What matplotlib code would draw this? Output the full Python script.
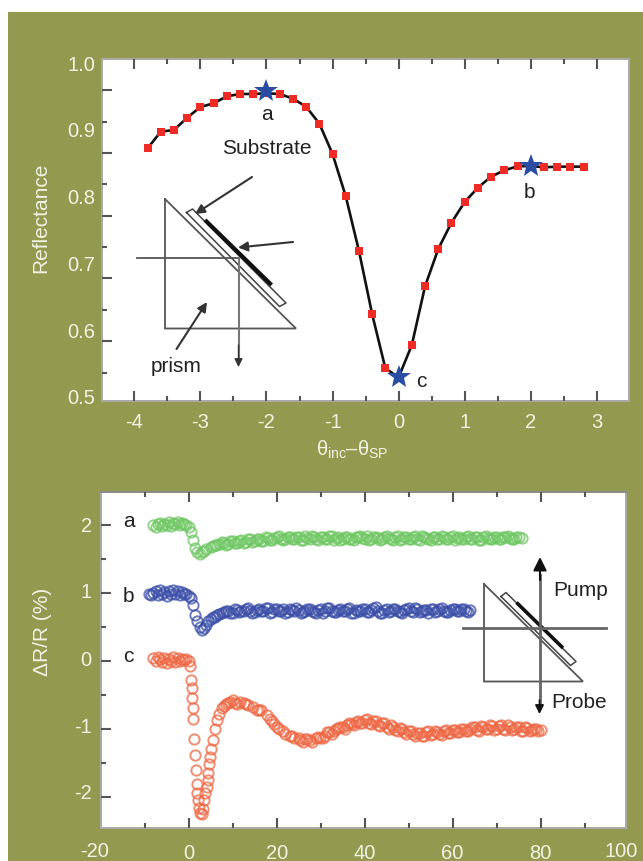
import matplotlib
matplotlib.use('Agg')
import matplotlib.pyplot as plt
from matplotlib.patches import Rectangle

plt.rcParams['font.family'] = ['Liberation Sans', 'DejaVu Sans']
plt.rcParams['mathtext.fontset'] = 'custom'
plt.rcParams['mathtext.rm'] = 'Liberation Sans'

W, H = 643, 861
OLIVE = '#939a4f'
LABEL = '#f1f2e2'
FRAME = '#a9a9a9'
INK = '#222222'
TICK = '#555555'

# reflectance curve
angle = [-3.8, -3.6, -3.4, -3.2, -3.0, -2.8, -2.6, -2.4, -2.2, -2.0,
         -1.8, -1.6, -1.4, -1.2, -1.0, -0.8, -0.6, -0.4, -0.2, 0.0,
         0.2, 0.4, 0.6, 0.8, 1.0, 1.2, 1.4, 1.6, 1.8, 2.0,
         2.2, 2.4, 2.6, 2.8]
reflectance = [0.8725, 0.8975, 0.900, 0.9185, 0.9345, 0.940, 0.9505, 0.954, 0.954, 0.955,
               0.954, 0.947, 0.935, 0.9095, 0.864, 0.8005, 0.7185, 0.6235, 0.5425, 0.529,
               0.5775, 0.6655, 0.7215, 0.761, 0.792, 0.8135, 0.830, 0.8395, 0.8455, 0.846,
               0.844, 0.845, 0.845, 0.845]
star_angle = [-2.0, 2.0, 0.0]
star_refl = [0.9585, 0.846, 0.529]

refl_xticks = [-4, -3, -2, -1, 0, 1, 2, 3]
refl_xminor = [-3.5, -2.5, -1.5, -0.5, 0.5, 1.5, 2.5]
refl_ylabels = [0.5, 0.6, 0.7, 0.8, 0.9, 1.0]
# the printed tick marks do not line up with the printed numbers
refl_ymajor = [0.96, 0.866, 0.7715, 0.6775, 0.5835]
refl_yminor = [0.9125, 0.8185, 0.725, 0.630, 0.536]

# transient traces
t_a = [-8, -7.5, -7, -6.5, -6, -5.5, -5, -4.5, -4, -3.5,
       -3, -2.5, -2, -1.5, -1, -0.5, 0, 0.5, 1, 1.5,
       2, 2.5, 3, 3.5, 4, 5, 6, 7, 8, 9,
       10, 11, 12, 13, 14, 15, 16, 17, 18, 19,
       20, 21, 22, 23, 24, 25, 26, 27, 28, 29,
       30, 31, 32, 33, 34, 35, 36, 37, 38, 39,
       40, 41, 42, 43, 44, 45, 46, 47, 48, 49,
       50, 51, 52, 53, 54, 55, 56, 57, 58, 59,
       60, 61, 62, 63, 64, 65, 66, 67, 68, 69,
       70, 71, 72, 73, 74, 75, 75.7]
r_a = [2.0, 1.97, 2.01, 2.03, 1.98, 2.02, 2.0, 2.04, 1.99, 2.03,
       2.01, 2.04, 2.0, 2.03, 2.02, 2.0, 1.97, 1.9, 1.78, 1.66,
       1.6, 1.58, 1.6, 1.62, 1.65, 1.67, 1.7, 1.72, 1.74, 1.72,
       1.76, 1.74, 1.78, 1.75, 1.79, 1.76, 1.8, 1.77, 1.81, 1.78,
       1.82, 1.79, 1.8, 1.83, 1.79, 1.82, 1.78, 1.81, 1.84, 1.79,
       1.82, 1.8, 1.84, 1.78, 1.82, 1.8, 1.83, 1.79, 1.82, 1.84,
       1.8, 1.78, 1.83, 1.81, 1.79, 1.84, 1.8, 1.82, 1.78, 1.83,
       1.8, 1.82, 1.79, 1.84, 1.81, 1.78, 1.83, 1.8, 1.82, 1.79,
       1.84, 1.81, 1.79, 1.83, 1.8, 1.82, 1.78, 1.83, 1.81, 1.8,
       1.82, 1.79, 1.83, 1.81, 1.8, 1.82, 1.81]
# in-between points of the same trace
t_a2 = [5.5, 6.5, 7.5, 8.5, 9.5, 10.5, 11.5, 12.5, 13.5, 14.5,
        15.5, 16.5, 17.5, 18.5, 19.5, 20.5, 21.5, 22.5, 23.5, 24.5,
        25.5, 26.5, 27.5, 28.5, 29.5, 30.5, 31.5, 32.5, 33.5, 34.5,
        35.5, 36.5, 37.5, 38.5, 39.5, 40.5, 41.5, 42.5, 43.5, 44.5,
        45.5, 46.5, 47.5, 48.5, 49.5, 50.5, 51.5, 52.5, 53.5, 54.5,
        55.5, 56.5, 57.5, 58.5, 59.5, 60.5, 61.5, 62.5, 63.5, 64.5,
        65.5, 66.5, 67.5, 68.5, 69.5, 70.5, 71.5, 72.5, 73.5, 74.5]
r_a2 = [1.69, 1.7, 1.75, 1.71, 1.76, 1.73, 1.77, 1.74, 1.79, 1.75,
        1.79, 1.76, 1.82, 1.78, 1.81, 1.84, 1.78, 1.82, 1.79, 1.83,
        1.78, 1.84, 1.8, 1.83, 1.78, 1.82, 1.79, 1.84, 1.81, 1.78,
        1.83, 1.8, 1.78, 1.83, 1.81, 1.84, 1.79, 1.82, 1.78, 1.83,
        1.81, 1.78, 1.84, 1.8, 1.83, 1.79, 1.84, 1.78, 1.82, 1.8,
        1.83, 1.79, 1.84, 1.8, 1.82, 1.78, 1.83, 1.8, 1.84, 1.79,
        1.82, 1.78, 1.84, 1.8, 1.83, 1.79, 1.82, 1.84, 1.79, 1.82]

t_b = [-9, -8.5, -8, -7.5, -7, -6.5, -6, -5.5, -5, -4.5,
       -4, -3.5, -3, -2.5, -2, -1.5, -1, -0.5, 0, 0.5,
       1, 1.5, 2, 2.5, 3, 3.5, 4, 4.5, 5, 6,
       7, 8, 9, 10, 11, 12, 13, 14, 15, 16,
       17, 18, 19, 20, 21, 22, 23, 24, 25, 26,
       27, 28, 29, 30, 31, 32, 33, 34, 35, 36,
       37, 38, 39, 40, 41, 42, 43, 44, 45, 46,
       47, 48, 49, 50, 51, 52, 53, 54, 55, 56,
       57, 58, 59, 60, 61, 62, 63, 63.9]
r_b = [0.98, 0.97, 1.0, 1.03, 0.97, 1.04, 0.99, 1.02, 0.96, 1.03,
       0.98, 1.04, 0.99, 1.03, 0.97, 1.02, 0.98, 0.99, 0.95, 0.92,
       0.82, 0.68, 0.58, 0.5, 0.46, 0.48, 0.53, 0.58, 0.62, 0.65,
       0.69, 0.72, 0.73, 0.71, 0.75, 0.73, 0.77, 0.74, 0.72, 0.76,
       0.74, 0.78, 0.72, 0.76, 0.74, 0.71, 0.77, 0.73, 0.75, 0.72,
       0.77, 0.74, 0.71, 0.76, 0.73, 0.78, 0.72, 0.75, 0.73, 0.77,
       0.71, 0.75, 0.73, 0.76, 0.72, 0.78, 0.74, 0.71, 0.76, 0.73,
       0.77, 0.72, 0.75, 0.78, 0.72, 0.76, 0.73, 0.75, 0.77, 0.72,
       0.76, 0.74, 0.72, 0.77, 0.74, 0.76, 0.74, 0.75]
t_b2 = [5.5, 6.5, 7.5, 8.5, 9.5, 10.5, 11.5, 12.5, 13.5, 14.5,
        15.5, 16.5, 17.5, 18.5, 19.5, 20.5, 21.5, 22.5, 23.5, 24.5,
        25.5, 26.5, 27.5, 28.5, 29.5, 30.5, 31.5, 32.5, 33.5, 34.5,
        35.5, 36.5, 37.5, 38.5, 39.5, 40.5, 41.5, 42.5, 43.5, 44.5,
        45.5, 46.5, 47.5, 48.5, 49.5, 50.5, 51.5, 52.5, 53.5, 54.5,
        55.5, 56.5, 57.5, 58.5, 59.5, 60.5, 61.5, 62.5, 63.5]
r_b2 = [0.64, 0.67, 0.7, 0.74, 0.7, 0.76, 0.72, 0.74, 0.78, 0.71,
        0.75, 0.73, 0.78, 0.71, 0.76, 0.73, 0.77, 0.72, 0.75, 0.78,
        0.71, 0.74, 0.77, 0.72, 0.75, 0.71, 0.78, 0.74, 0.72, 0.76,
        0.73, 0.78, 0.71, 0.74, 0.77, 0.72, 0.75, 0.79, 0.71, 0.75,
        0.72, 0.77, 0.74, 0.71, 0.76, 0.73, 0.78, 0.72, 0.75, 0.71,
        0.76, 0.73, 0.78, 0.72, 0.75, 0.77, 0.73, 0.76, 0.72]

t_c = [-8, -7.5, -7, -6.5, -6, -5.5, -5, -4.5, -4, -3.5,
       -3, -2.5, -2, -1.5, -1, -0.5, 0, 0.3, 0.53, 0.68,
       0.83, 0.91, 1.06, 1.2, 1.44, 1.6, 1.8, 2.2, 2.6, 2.95,
       3.5, 4.1, 4.5, 4.85, 5.45, 6.4, 7.5, 8.5, 9.4, 10.5,
       11.7, 13, 14.7, 16, 17.7, 19, 20, 21.5, 23, 24,
       25.3, 26.5, 27.6, 29, 29.8, 31, 32, 33, 34, 35,
       36, 37, 38, 39, 40, 41, 42, 43, 44, 45,
       46, 47, 48, 49, 50, 51, 52, 53, 54, 55,
       56, 57, 58, 59, 60, 61, 62, 63, 64, 65,
       66, 67, 68, 69, 70, 71, 72, 73, 74, 75,
       76, 77, 78, 79, 80]
r_c = [0.04, 0.0, 0.06, 0.02, -0.02, 0.04, -0.03, 0.03, 0.0, 0.05,
       -0.01, 0.04, 0.0, 0.03, 0.01, 0.03, 0.0, -0.08, -0.28, -0.40,
       -0.55, -0.70, -0.85, -1.15, -1.38, -1.60, -1.82, -2.05, -2.24, -2.25,
       -2.05, -1.85, -1.65, -1.41, -1.17, -0.87, -0.70, -0.64, -0.60, -0.62,
       -0.60, -0.64, -0.68, -0.72, -0.80, -0.88, -0.98, -1.03, -1.10, -1.13,
       -1.16, -1.15, -1.17, -1.14, -1.14, -1.10, -1.05, -1.03, -0.99, -0.98,
       -0.94, -0.93, -0.90, -0.92, -0.87, -0.91, -0.88, -0.94, -0.92, -0.98,
       -0.95, -1.02, -0.99, -1.05, -1.03, -1.08, -1.06, -1.10, -1.05, -1.09,
       -1.04, -1.07, -1.03, -1.06, -1.02, -1.05, -1.00, -1.04, -1.01, -0.98,
       -1.03, -0.97, -1.01, -0.96, -1.00, -0.95, -1.02, -0.97, -1.01, -0.98,
       -1.03, -0.99, -1.02, -1.00, -1.02]
t_c2 = [2.0, 2.4, 3.2, 3.8, 4.3, 4.7, 5.1, 5.9, 6.9, 8.0,
        9.0, 10.0, 11.0, 12.5, 13.5, 15.5, 16.5, 18.5, 19.5, 20.5,
        22.0, 23.5, 25.0, 26.0, 27.0, 28.0, 29.5, 30.5, 31.5, 32.5,
        33.5, 34.5, 35.5, 36.5, 37.5, 38.5, 39.5, 40.5, 41.5, 42.5,
        43.5, 44.5, 45.5, 46.5, 47.5, 48.5, 49.5, 50.5, 51.5, 52.5,
        53.5, 54.5, 55.5, 56.5, 57.5, 58.5, 59.5, 60.5, 61.5, 62.5,
        63.5, 64.5, 65.5, 66.5, 67.5, 68.5, 69.5, 70.5, 71.5, 72.5,
        73.5, 74.5, 75.5, 76.5, 77.5, 78.5, 79.5]
r_c2 = [-1.95, -2.16, -2.18, -1.95, -1.75, -1.52, -1.3, -1.0, -0.78, -0.66,
        -0.62, -0.58, -0.64, -0.62, -0.65, -0.72, -0.72, -0.86, -0.93, -1.0,
        -1.08, -1.10, -1.14, -1.20, -1.15, -1.19, -1.12, -1.13, -1.05, -1.07,
        -1.0, -0.97, -1.0, -0.92, -0.95, -0.88, -0.92, -0.85, -0.93, -0.89,
        -0.96, -0.92, -1.0, -0.97, -1.04, -1.0, -1.07, -1.04, -1.10, -1.06,
        -1.11, -1.04, -1.08, -1.05, -1.09, -1.02, -1.06, -1.02, -1.05, -1.0,
        -1.04, -0.98, -1.02, -0.96, -1.0, -0.95, -1.02, -0.96, -1.0, -0.94,
        -1.02, -0.97, -1.03, -0.98, -1.04, -1.0, -1.03]

trans_xlabels = [0, 20, 40, 60, 80]
trans_xmajor = [0, 20, 40, 60, 80]
trans_xminor = [-10, 10, 30, 50, 70, 90]
trans_ymajor = [2, 1, 0, -1, -2]
trans_yminor = [1.5, 0.5, -0.5, -1.5]
# printed numbers sit a little above their tick marks
trans_ylabel_pos = [2.0, 1.03, 0.03, -0.95, -1.93]
trans_ylabels = ['2', '1', '0', '-1', '-2']


def px_axes(fig, left, top, right, bottom, **kw):
    return fig.add_axes([left / W, 1 - bottom / H, (right - left) / W, (bottom - top) / H], **kw)


def tick_layer(fig, ax, xmajor, xminor, ymajor, yminor):
    # second transparent axes that only carries the tick marks
    tk = fig.add_axes(ax.get_position(), facecolor='none', zorder=ax.get_zorder() + 1)
    tk.set_xlim(ax.get_xlim())
    tk.set_ylim(ax.get_ylim())
    tk.set_xticks(xmajor)
    tk.set_xticks(xminor, minor=True)
    tk.set_yticks(ymajor)
    tk.set_yticks(yminor, minor=True)
    tk.tick_params(which='major', direction='in', length=7, width=1.5, color=TICK,
                   top=True, bottom=True, left=True, right=False,
                   labelleft=False, labelbottom=False)
    tk.tick_params(which='minor', direction='in', length=3.5, width=1.5, color=TICK,
                   top=True, bottom=True, left=True, right=False)
    for s in tk.spines.values():
        s.set_visible(False)
    return tk


def draw_prism(ov, tri, strip, film, film_lw):
    xs, ys = zip(*(tri + tri[:1]))
    ov.plot(xs, ys, color='#555555', lw=1.3, solid_joinstyle='miter')
    xs, ys = zip(*(strip + strip[:1]))
    ov.plot(xs, ys, color='#444444', lw=1.1)
    ov.plot(*zip(*film), color='#111111', lw=film_lw, solid_capstyle='butt')


def arrow(ov, start, end, lw=1.5, color='#333333', scale=14):
    ov.annotate('', xy=end, xytext=start,
                arrowprops=dict(arrowstyle='-|>', color=color, lw=lw, mutation_scale=scale,
                                shrinkA=0, shrinkB=0))


fig = plt.figure(figsize=(W / 100, H / 100), dpi=100, facecolor='white')
fig.add_artist(Rectangle((8 / W, 0), 1 - 8 / W, 1 - 12 / H, transform=fig.transFigure,
                         facecolor=OLIVE, edgecolor='none', zorder=-5))

# top panel
ax = px_axes(fig, 102, 59.3, 628.5, 400.7, facecolor='white')
ax.set_xlim(-4.49, 3.48)
ax.set_ylim(0.494, 1.006)
ax.plot(angle, reflectance, color='#111111', lw=1.9, zorder=2)
ax.plot(angle, reflectance, 's', color='#ee2b24', ms=6.3, mew=0, zorder=3)
ax.plot(star_angle, star_refl, '*', color='#2b4ca3', ms=18, mew=0, zorder=4)
ax.set_xticks(refl_xticks, [str(v) for v in refl_xticks])
ax.set_yticks(refl_ylabels, [f'{v:.1f}' for v in refl_ylabels])
ax.tick_params(axis='x', length=0, pad=9, labelsize=14.5, labelcolor=LABEL)
ax.tick_params(axis='y', length=0, pad=5, labelsize=14.5, labelcolor=LABEL)
for s in ax.spines.values():
    s.set_color(FRAME)
    s.set_linewidth(1.4)
tick_layer(fig, ax, refl_xticks, refl_xminor, refl_ymajor, refl_yminor)

# bottom panel
ax2 = px_axes(fig, 100.7, 491.7, 626, 828.3, facecolor='white')
ax2.set_xlim(-20, 99.4)
ax2.set_ylim(-2.465, 2.49)
trace_style = dict(ls='none', marker='o', mfc='none', ms=7.4, mew=1.4, alpha=0.75)
ax2.plot(t_a + t_a2, r_a + r_a2, color='#6fc763', **trace_style)
ax2.plot(t_b + t_b2, r_b + r_b2, color='#3a4ea8', **trace_style)
ax2.plot(t_c + t_c2, r_c + r_c2, color='#ee6743', **trace_style)
ax2.set_xticks(trans_xlabels, [str(v) for v in trans_xlabels])
ax2.set_yticks(trans_ylabel_pos, trans_ylabels)
ax2.tick_params(axis='x', length=0, pad=11, labelsize=14.5, labelcolor=LABEL)
ax2.tick_params(axis='y', length=0, pad=6.5, labelsize=14.5, labelcolor=LABEL)
for s in ax2.spines.values():
    s.set_color(FRAME)
    s.set_linewidth(1.4)
ax2.spines['top'].set_color('#8a8a8a')
tick_layer(fig, ax2, trans_xmajor, trans_xminor, trans_ymajor, trans_yminor)

# overlay in pixel coordinates for labels and the prism sketches
ov = fig.add_axes([0, 0, 1, 1], facecolor='none', zorder=10)
ov.set_xlim(0, W)
ov.set_ylim(H, 0)
ov.axis('off')

ov.text(41, 218, 'Reflectance', color=LABEL, fontsize=15, rotation=90, ha='center', va='center')
ov.text(352, 450, r'θ$_{\mathrm{inc}}$–θ$_{\mathrm{SP}}$', color=LABEL, fontsize=14.5, ha='center', va='center')
ov.text(43, 632, 'ΔR/R (%)', color=LABEL, fontsize=15, rotation=90, ha='center', va='center')
ov.text(95, 851.5, '-20', color=LABEL, fontsize=14.5, ha='center', va='center')
ov.text(621.5, 851.5, '100', color=LABEL, fontsize=14.5, ha='center', va='center')

for txt, x, y in [('a', 266.5, 115), ('Substrate', 266.5, 149), ('prism', 176.5, 366.5),
                  ('b', 529, 193), ('c', 421, 381.5),
                  ('a', 128.5, 521.5), ('b', 128.5, 596), ('c', 128.5, 656.5),
                  ('Pump', 580.5, 591), ('Probe', 579, 702.5)]:
    ov.text(x, y, txt, color=INK, fontsize=15, ha='center', va='center')

# sketch in the top panel
draw_prism(ov, [(165, 199), (165, 328.5), (296, 328.5)],
           [(186.5, 212.5), (192.5, 209), (286, 303), (279.5, 306.5)],
           [(205, 220), (271.5, 285)], 3)
ov.plot([136.5, 238.5], [257.5, 257.5], color='#555555', lw=1.3)
ov.plot([238.5, 238.5], [257.5, 360], color='#777777', lw=1.5)
arrow(ov, (238.5, 345), (238.5, 367), lw=1.0, scale=12)
arrow(ov, (252, 177), (195, 214))
arrow(ov, (293, 242), (238, 247.5))
arrow(ov, (176.5, 349), (207, 302))

# sketch in the bottom panel
draw_prism(ov, [(484, 584), (484, 681.5), (583, 681.5)],
           [(501, 596.5), (506, 592.5), (576, 661.5), (570.5, 665.5)],
           [(516.5, 602.5), (563, 648)], 2.6)
ov.plot([463, 606], [627.5, 627.5], color='#666666', lw=2)
ov.plot([540, 540], [575, 706], color='#666666', lw=2)
arrow(ov, (540, 580), (540, 557), lw=1.5, color='#111111', scale=20)
arrow(ov, (539.5, 700), (539.5, 714), lw=1.2, color='#111111', scale=13)

fig.savefig('out.png', dpi=100)
